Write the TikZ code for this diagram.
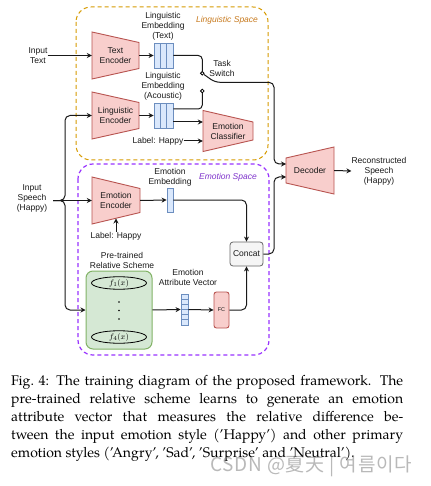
\documentclass[tikz,border=0pt]{standalone}
\usepackage{fontspec}
\usetikzlibrary{arrows.meta,calc,shapes.geometric}
\newfontfamily\dfont{Liberation Sans}
\newfontfamily\capfont{TeX Gyre Pagella}
\newfontfamily\wmfont[LetterSpace=4]{Noto Sans CJK SC}
\definecolor{redfill}{HTML}{F8CECC}
\definecolor{redline}{HTML}{B85450}
\definecolor{bluefill}{HTML}{DAE8FC}
\definecolor{blueline}{HTML}{6C8EBF}
\definecolor{greenfill}{HTML}{D5E8D4}
\definecolor{greenline}{HTML}{82B366}
\definecolor{grayfill}{HTML}{F5F5F5}
\definecolor{grayline}{HTML}{666666}
\definecolor{orangeline}{HTML}{D79B00}
\definecolor{orangetext}{HTML}{C87A1E}
\definecolor{purpleline}{HTML}{9933FF}
\definecolor{purpletext}{HTML}{7F33CC}
\definecolor{txt}{HTML}{1A1A1A}
\tikzset{
  lbl/.style={font=\dfont\fontsize{8.5}{10}\selectfont, align=center, inner sep=0pt, text=txt},
  spacelbl/.style={font=\dfont\itshape\fontsize{8.5}{10}\selectfont, inner sep=0pt},
  ln/.style={line width=1pt, draw=black!90},
  arr/.style={ln, -{Stealth[length=5pt,width=5pt]}},
  thickarr/.style={arr, line width=1.8pt},
  trap/.style={fill=redfill, draw=redline, line width=0.9pt},
  emb3/.style={rectangle, fill=bluefill, draw=blueline, line width=0.8pt,
    minimum width=19pt, minimum height=25pt, inner sep=0pt,
    path picture={\foreach \i in {1,2}{\draw[blueline, line width=0.8pt]
      ($(path picture bounding box.south west)!\i/3!(path picture bounding box.south east)$) --
      ($(path picture bounding box.north west)!\i/3!(path picture bounding box.north east)$);}}},
  emb1/.style={rectangle, fill=bluefill, draw=blueline, line width=0.8pt,
    minimum width=6pt, minimum height=24pt, inner sep=0pt},
  vec6/.style={rectangle, fill=bluefill, draw=blueline, line width=0.8pt,
    minimum width=7pt, minimum height=31pt, inner sep=0pt,
    path picture={\foreach \i in {1,...,5}{\draw[blueline, line width=0.8pt]
      ($(path picture bounding box.south west)!\i/6!(path picture bounding box.north west)$) --
      ($(path picture bounding box.south east)!\i/6!(path picture bounding box.north east)$);}}},
  swc/.style={circle, draw=black, fill=white, line width=0.8pt, inner sep=0pt, minimum size=3.6pt},
  concatbox/.style={lbl, rectangle, rounded corners=3pt, fill=grayfill, draw=grayline,
    line width=0.8pt, minimum width=33pt, minimum height=24pt},
  fcbox/.style={rectangle, rounded corners=2.5pt, fill=redfill, draw=redline, line width=0.9pt,
    minimum width=15pt, minimum height=36pt, inner sep=0pt,
    font=\dfont\fontsize{5.5}{6}\selectfont, text=txt},
  rsbox/.style={rectangle, rounded corners=7pt, fill=greenfill, draw=greenline, line width=1pt,
    minimum width=66pt, minimum height=78pt, inner sep=0pt},
  ellf/.style={ellipse, draw=black, line width=0.8pt, minimum width=55pt, minimum height=12.5pt,
    inner sep=0pt, font=\fontsize{8}{8}\selectfont},
}
% trapezoid: name, cx, cy, half width, half left height, half right height, text
\newcommand\trapz[7]{%
  \draw[trap] ({#2-#4},{#3-#5}) -- ({#2+#4},{#3-#6}) -- ({#2+#4},{#3+#6}) -- ({#2-#4},{#3+#5}) -- cycle;
  \node[lbl, minimum width={2*#4}, minimum height={2*min(#5,#6)}] (#1) at (#2,#3) {#7};}
\begin{document}
\begin{tikzpicture}[x=1pt,y=-1pt]
\useasboundingbox[fill=white] (0,0) rectangle (430,486);

% spaces
\draw[orangeline, line width=1pt, dash pattern=on 4pt off 3pt, rounded corners=15pt] (76,7) rectangle (268,160);
\draw[purpleline, line width=1.2pt, dash pattern=on 4pt off 3pt, rounded corners=15pt] (78,164) rectangle (269,355);
\node[spacelbl, text=orangetext] (lsp) at (227,20) {Linguistic Space};
\node[spacelbl, text=purpletext] (esp) at (228,177) {Emotion Space};

% encoders / decoders
\trapz{te}{115.5}{55.5}{23.5}{23.5}{13}{Text\\Encoder}
\trapz{le}{115.5}{115.5}{23.5}{23.5}{13}{Linguistic\\Encoder}
\trapz{ee}{116}{200.5}{24}{23.5}{12}{Emotion\\Encoder}
\trapz{ec}{228}{131}{25}{20.5}{9}{Emotion\\Classifier}
\trapz{dec}{310}{170.5}{24}{12.5}{23.5}{Decoder}

% inputs / outputs
\node[lbl] (intext) at (38,55.5) {Input\\Text};
\node[lbl] (inspeech) at (32,198) {Input\\Speech\\(Happy)};
\node[lbl] (recon) at (379,171) {Reconstructed\\Speech\\(Happy)};
\coordinate (spin) at (53,200.5);
\coordinate (decin1) at (286,164);
\coordinate (decin2) at (286,177);
\coordinate (eebot) at (116,218.5);

% embeddings
\node[emb3] (embT) at (163.5,55.5) {};
\node[lbl] (embTl) at (163,26) {Linguistic\\Embedding\\(Text)};
\node[emb3] (embA) at (163.5,115.5) {};
\node[lbl] (embAl) at (163,86) {Linguistic\\Embedding\\(Acoustic)};
\node[swc] (sw1) at (202.3,73.3) {};
\node[swc] (sw2) at (202.3,91) {};
\node[lbl] (tsw) at (222,68) {Task\\Switch};
\node[lbl] (lh1) at (158,141) {Label: Happy};

\node[emb1] (embE) at (170,200) {};
\node[lbl] (embEl) at (170,177.5) {Emotion\\Embedding};
\node[lbl] (lh2) at (116,236) {Label: Happy};

\node[concatbox] (cc) at (246.5,254) {Concat};

% relative scheme
\node[lbl] (rsl) at (122,260) {Pre-trained\\Relative Scheme};
\node[rsbox] (rs) at (119,310) {};
\node[ellf] (f1) at (119,283) {$f_1(x)$};
\node[ellf] (f4) at (119,337) {$f_4(x)$};
\fill[black] (119,302) circle (0.9) (119,310.5) circle (0.9) (119,319) circle (0.9);
\node[vec6] (vec) at (184.5,309.5) {};
\node[lbl] (vecl) at (188,277.5) {Emotion\\Attribute Vector};
\node[fcbox] (fc) at (221.5,310) {FC};

% connectors
\draw[arr] (intext) -- (te.west);
\draw[thickarr] (te.east) -- (embT.west);
\draw[thickarr] (le.east) -- (embA.west);
\draw[ln, rounded corners=4pt] (embT.east) -| (sw1.north);
\draw[arr, rounded corners=5pt] (sw1) -- (215,82.3) -| (274,164) -- (decin1);
\draw[ln, rounded corners=4pt] ([yshift=6.5pt]embA.east) -| (sw2.south);
\draw[arr] ([yshift=-6.5pt]embA.east) -- ([yshift=-6.5pt]embA.east -| ec.west);
\draw[arr] (lh1) -- (lh1 -| ec.west);

\draw[arr] (spin) -- (ee.west);
\draw[arr, rounded corners=5pt] (spin) -- (65,200.5) |- (le.west);
\draw[arr, rounded corners=5pt] (spin) -- (65,200.5) |- (rs.west);
\draw[arr] (lh2) -- (eebot);
\draw[arr] (ee.east) -- (embE.west);
\draw[arr, rounded corners=5pt] (embE.east) -| (cc.north);
\draw[arr] (rs.east) -- (vec.west);
\draw[arr] (vec.east) -- (fc.west);
\draw[arr, rounded corners=5pt] (fc.east) -| (cc.south);
\draw[arr, rounded corners=5pt] (cc.east) -- (274,254) |- (decin2);
\draw[arr] (dec.east) -- (recon.west);

% caption
\node[anchor=north west, inner sep=0pt, text width=392pt, align=justify,
      font=\capfont\fontsize{14}{17.9}\selectfont, text=black] (cap) at (11,375.5)
 {Fig.~4: The training diagram of the proposed framework. The\linebreak
  pre-trained relative scheme learns to generate an emotion\linebreak
  attribute vector that measures the relative difference be-\linebreak
  tween the input emotion style (’Happy’) and other primary\linebreak
  emotion styles (’Angry’, ’Sad’, ’Surprise’ and ’Neutral’).};
\node[anchor=west, inner sep=0pt, font=\wmfont\fontsize{19}{19}\selectfont, text=gray, opacity=0.55] (wm) at (210,466) {CSDN @夏天 | 여름이다};
\end{tikzpicture}
\end{document}
